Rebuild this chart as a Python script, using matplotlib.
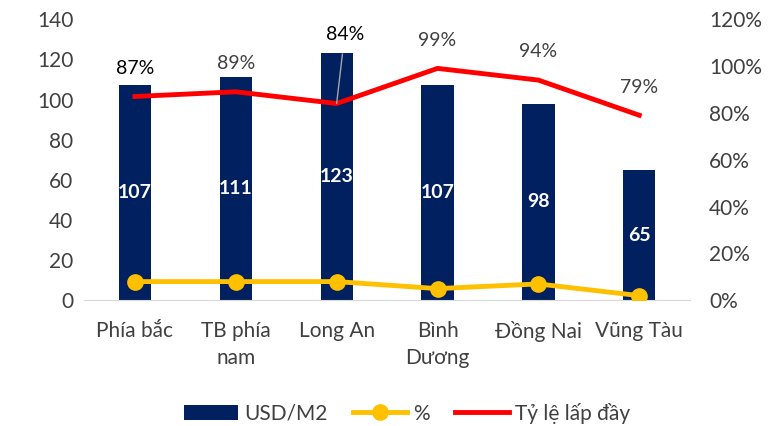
import matplotlib.pyplot as plt
import numpy as np

plt.rcParams['font.family'] = ['Lato', 'DejaVu Sans']

# data
categories = ["Phía bắc", "TB phía\nnam", "Long An", "Bình\nDương", "Đồng Nai", "Vũng Tàu"]
usd_m2 = [107, 111, 123, 107, 98, 65]
pct = [8, 8, 8, 5, 7, 2]
fill_rate = [87, 89, 84, 99, 94, 79]

navy = "#002060"
yellow = "#FFC000"
red = "#FF0000"

fig = plt.figure(figsize=(7.68, 4.26), dpi=100)
ax = fig.add_axes([0.11, 0.295, 0.788, 0.66])
ax2 = ax.twinx()

x = np.arange(len(categories))
bars = ax.bar(x, usd_m2, width=0.32, color=navy, label="USD/M2", zorder=2)
for xi, v in zip(x, usd_m2):
    ax.text(xi, v / 2, str(v), ha="center", va="center", color="white",
            fontsize=14, fontweight="bold", zorder=3)

ax.set_ylim(0, 140)
ax.set_yticks(range(0, 141, 20))
ax.set_xlim(-0.5, len(categories) - 0.5)
ax.set_xticks(x)
ax.set_xticklabels(categories, linespacing=1.45)

ax2.plot(x, [p / 100 for p in pct], color=yellow, lw=3.5, marker="o",
         markersize=11, label="%", zorder=4)
ax2.plot(x, [f / 100 for f in fill_rate], color=red, lw=3.5, label="Tỷ lệ lấp đầy", zorder=4)
ax2.set_ylim(0, 1.2)
ax2.set_yticks(np.arange(0, 1.21, 0.2))
ax2.set_yticklabels(["%d%%" % round(t * 100) for t in np.arange(0, 1.21, 0.2)])

# percentage labels above red line
offsets = [0.12, 0.12, None, 0.12, 0.12, 0.12]
label_colors = ["black", "#404040", "black", "#404040", "#404040", "#404040"]
for xi, f, off, c in zip(x, fill_rate, offsets, label_colors):
    if off is None:
        ax2.annotate("%d%%" % f, xy=(xi, f / 100), xytext=(xi + 0.08, 1.135),
                     ha="center", va="center", fontsize=14, color=c,
                     arrowprops=dict(arrowstyle="-", color="#a6a6a6", lw=1,
                                     shrinkA=6, shrinkB=0), zorder=5)
    else:
        ax2.text(xi, f / 100 + off, "%d%%" % f, ha="center", va="center",
                 fontsize=14, color=c, zorder=5)

for a in (ax, ax2):
    for s in ("top", "left", "right"):
        a.spines[s].set_visible(False)
    a.tick_params(length=0, labelsize=15, colors="#404040")
ax.spines["bottom"].set_color("#d9d9d9")
ax2.spines["bottom"].set_visible(False)
ax.tick_params(axis="x", pad=15)
ax.tick_params(axis="y", pad=8)
ax2.tick_params(axis="y", pad=14)

h1, l1 = ax.get_legend_handles_labels()
h2, l2 = ax2.get_legend_handles_labels()
fig.legend(h1 + h2, l1 + l2, loc="center", bbox_to_anchor=(0.53, 0.03),
           ncol=3, frameon=False, fontsize=15, handlelength=2.6,
           handletextpad=0.3, columnspacing=1.2, labelcolor="#404040")

fig.savefig("out.png", dpi=100)
